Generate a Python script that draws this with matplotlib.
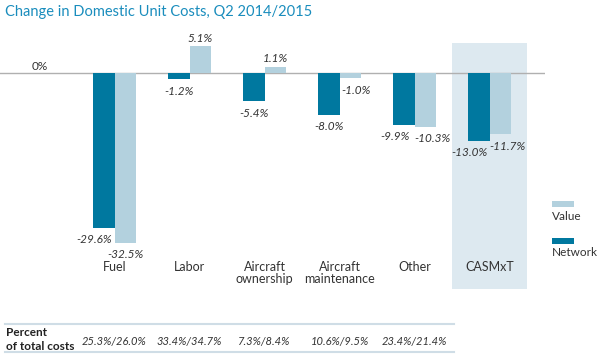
import matplotlib
matplotlib.use("Agg")
import matplotlib.pyplot as plt
from matplotlib.patches import Rectangle
from matplotlib.lines import Line2D

plt.rcParams['font.family'] = ['Lato', 'DejaVu Sans']

categories = ['Fuel', 'Labor', 'Aircraft\nownership', 'Aircraft\nmaintenance', 'Other', 'CASMxT']
network = [-29.6, -1.2, -5.4, -8.0, -9.9, -13.0]
value = [-32.5, 5.1, 1.1, -1.0, -10.3, -11.7]
pct_total = ['25.3%/26.0%', '33.4%/34.7%', '7.3%/8.4%', '10.6%/9.5%', '23.4%/21.4%']

# label nudges (points) so neighbouring labels don't collide
net_dx = [-7, 0, 0, 0, -6, -7]
val_dx = [0, 0, 0, 4, 5, 5]

NET = '#00789f'
VAL = '#b3d1de'
SHADE = '#dde9f0'
TXT = '#333333'

W, H = 600, 363
fig = plt.figure(figsize=(W / 100, H / 100), dpi=100)

def fx(px):
    return px / W

def fy(py):
    return 1 - py / H

ax = fig.add_axes([0, fy(289), fx(545), fy(43) - fy(289)])
ax.set_xlim(-1.527, 5.74)
ax.set_ylim(-41.3, 5.74)
ax.axis('off')

ax.axvspan(4.5, 5.5, color=SHADE, lw=0, zorder=0)
ax.axhline(0, color='#b0b0b0', lw=1, zorder=1)

bw = 0.287
x = list(range(len(categories)))
ax.bar([i - bw / 2 for i in x], network, width=bw, color=NET, zorder=2)
ax.bar([i + bw / 2 for i in x], value, width=bw, color=VAL, zorder=2)

lab = dict(fontsize=8.5, style='italic', color=TXT, ha='center', va='center')
for i in x:
    for v, xc, dx in ((network[i], i - bw / 2, net_dx[i]), (value[i], i + bw / 2, val_dx[i])):
        dy = -8.6 if v < 0 else 6
        ax.annotate(f'{v:.1f}%', (xc, v), xytext=(dx, dy), textcoords='offset points', **lab)
    ax.text(i, -36.0, categories[i], ha='center', va='top', fontsize=9, color=TXT, linespacing=1.0)

ax.annotate('0%', (-1, 0), xytext=(0, 5), textcoords='offset points',
            fontsize=8.5, color=TXT, ha='center', va='center')

fig.text(fx(5), fy(12), 'Change in Domestic Unit Costs, Q2 2014/2015', fontsize=10.5,
         color='#1a8dbd', ha='left', va='center')

# legend
for py, name, col in ((201, 'Value', VAL), (238, 'Network', NET)):
    fig.add_artist(Rectangle((fx(552), fy(py + 6)), fx(22), fy(py) - fy(py + 6),
                             transform=fig.transFigure, color=col, lw=0))
    fig.text(fx(552), fy(py + 15), name, fontsize=8.5, color=TXT, ha='left', va='center')

# table
for py in (324, 352):
    fig.add_artist(Line2D([fx(5), fx(454)], [fy(py), fy(py)], transform=fig.transFigure,
                          color='#cfdde6', lw=1.5))
fig.text(fx(6), fy(333), 'Percent', fontsize=8.5, fontweight='bold', color='#222222', va='center')
fig.text(fx(6), fy(346), 'of total costs', fontsize=8.5, fontweight='bold', color='#222222', va='center')
for i, t in enumerate(pct_total):
    fig.text(fx(114.5 + 75 * i), fy(341), t, fontsize=8, style='italic', color=TXT,
             ha='center', va='center')

fig.savefig('out.png', dpi=100)
